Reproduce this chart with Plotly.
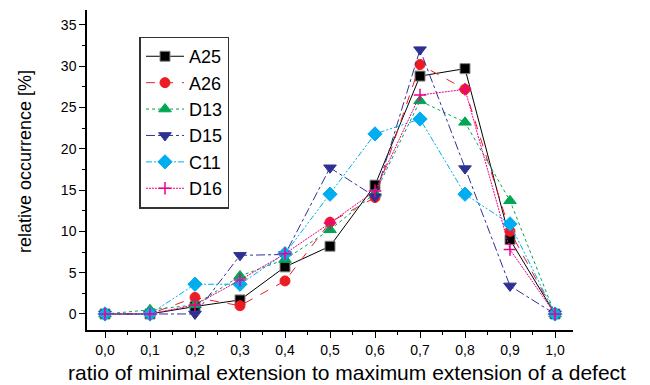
import plotly.graph_objects as go

x_vals = [0.0, 0.1, 0.2, 0.3, 0.4, 0.5, 0.6, 0.7, 0.8, 0.9, 1.0]

A25 = [0, 0, 0.9, 1.7, 5.7, 8.2, 15.6, 28.8, 29.7, 9.0, 0]
A26 = [0, 0, 2.0, 1.0, 4.0, 11.1, 14.1, 30.2, 27.2, 10.0, 0]
D13 = [0, 0.5, 1.1, 4.6, 6.6, 10.2, 14.6, 25.8, 23.2, 13.7, 0]
D15 = [0, 0, 0, 7.1, 7.2, 17.7, 14.2, 32.0, 17.6, 3.4, 0]
C11 = [0, 0, 3.6, 3.6, 7.3, 14.5, 21.8, 23.6, 14.5, 10.9, 0]
D16 = [0, 0, 1.1, 4.1, 7.3, 11.0, 14.9, 26.5, 27.2, 7.8, 0]

x_title = "ratio of minimal extension to maximum extension of a defect"
y_title = "relative occurrence [%]"

series = [
    ("A25", A25, "#000000", "solid", "square", 10, "#888888"),
    ("A26", A26, "#ed1c24", "dash", "circle", 10, "#ed1c24"),
    ("D13", D13, "#00a651", "dot", "triangle-up", 11, "#00a651"),
    ("D15", D15, "#2e3192", "dashdot", "triangle-down", 11, "#2e3192"),
    ("C11", C11, "#00aeef", "6px,2px,2px,2px,2px,2px", "diamond", 11, "#00aeef"),
    ("D16", D16, "#ec008c", "2px,1px", "cross-thin-open", 9, "#ec008c"),
]

fig = go.Figure()
for name, ys, color, dash, symbol, size, lc in series:
    marker = dict(symbol=symbol, size=size, color=color,
                  line=dict(color=lc, width=1 if symbol != "cross-thin-open" else 1.5))
    fig.add_trace(go.Scatter(
        x=x_vals, y=ys, name=name, mode="lines+markers",
        line=dict(color=color, width=1, dash=dash),
        marker=marker,
    ))

fig.update_layout(
    width=650, height=385,
    margin=dict(l=87, r=77, t=10, b=55),
    plot_bgcolor="white", paper_bgcolor="white",
    separators=", ",
    font=dict(family="Liberation Sans, Arial, sans-serif", color="black"),
    showlegend=True,
    legend=dict(
        x=0.108, y=0.917, xanchor="left", yanchor="top",
        bordercolor="#333333", borderwidth=1.5, bgcolor="white",
        font=dict(size=18), itemwidth=38, tracegroupgap=0,
    ),
    annotations=[
        dict(text=x_title, xref="paper", yref="paper",
             x=(347 - 87) / 486, y=(330 - 372) / 320,
             xanchor="center", yanchor="middle", showarrow=False,
             font=dict(size=21)),
        dict(text=y_title, xref="paper", yref="paper",
             x=(25 - 87) / 486, y=(330 - 162) / 320, textangle=-90,
             xanchor="center", yanchor="middle", showarrow=False,
             font=dict(size=18)),
    ],
)
fig.update_xaxes(
    range=[-0.04, 1.04], tickmode="linear", tick0=0, dtick=0.1, tickformat=".1f",
    showline=True, linecolor="black", linewidth=1.5, mirror=False,
    ticks="outside", ticklen=6, tickwidth=1.2, tickcolor="black",
    minor=dict(dtick=0.05, ticks="outside", ticklen=3, tickwidth=1, tickcolor="black"),
    showgrid=False, zeroline=False,
    tickfont=dict(size=14),
)
fig.update_yaxes(
    range=[-1.94, 36.8], tickmode="linear", tick0=0, dtick=5,
    showline=True, linecolor="black", linewidth=1.5, mirror=False,
    ticks="outside", ticklen=6, tickwidth=1.2, tickcolor="black",
    minor=dict(dtick=2.5, ticks="outside", ticklen=3, tickwidth=1, tickcolor="black"),
    showgrid=False, zeroline=False,
    tickfont=dict(size=14),
)

fig.write_html("out.html")
